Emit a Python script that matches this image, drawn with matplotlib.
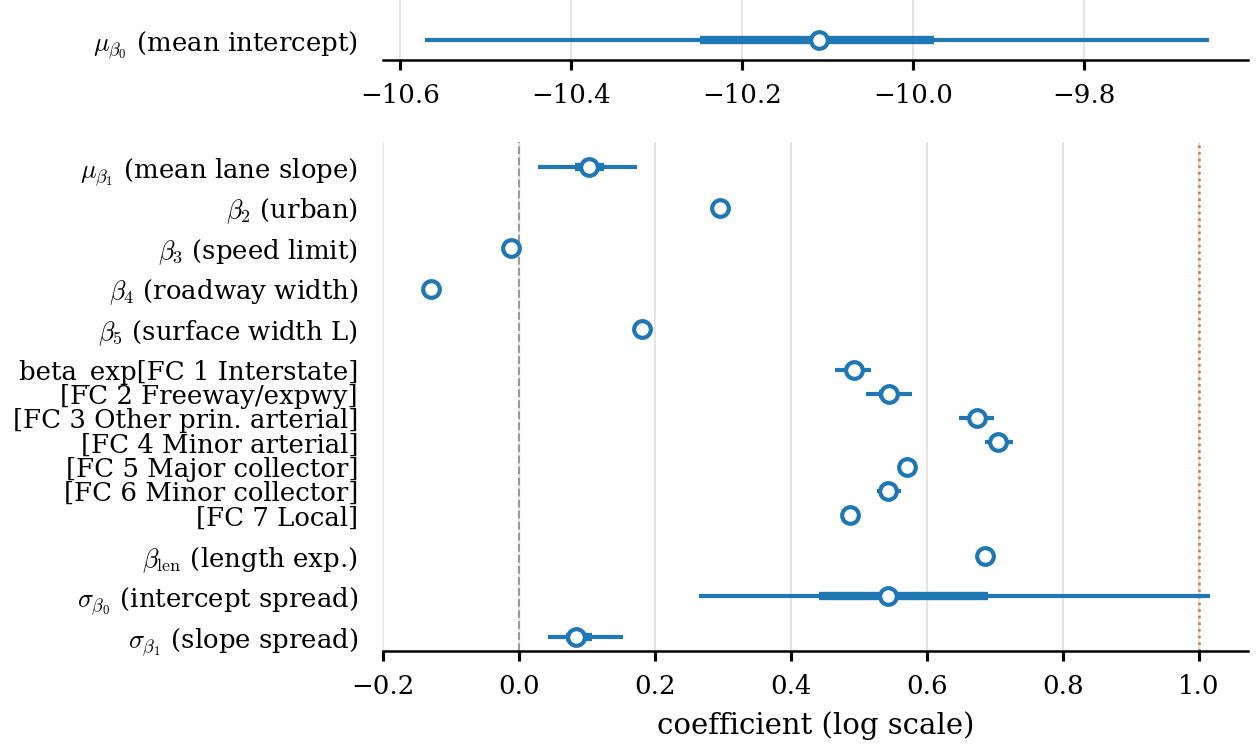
import matplotlib
matplotlib.use("Agg")
import matplotlib.pyplot as plt

plt.rcParams["font.family"] = "DejaVu Serif"
plt.rcParams["mathtext.fontset"] = "cm"

BLUE = "#1f77b4"

# intercept (own panel)
int_label = r"$\mu_{\beta_0}$ (mean intercept)"
int_median = -10.110
int_hdi50 = (-10.249, -9.975)
int_hdi94 = (-10.571, -9.653)

# remaining coefficients, top to bottom
labels = [
    r"$\mu_{\beta_1}$ (mean lane slope)",
    r"$\beta_2$ (urban)",
    r"$\beta_3$ (speed limit)",
    r"$\beta_4$ (roadway width)",
    r"$\beta_5$ (surface width L)",
    "beta_exp[FC 1 Interstate]",
    "[FC 2 Freeway/expwy]",
    "[FC 3 Other prin. arterial]",
    "[FC 4 Minor arterial]",
    "[FC 5 Major collector]",
    "[FC 6 Minor collector]",
    "[FC 7 Local]",
    r"$\beta_{\mathrm{len}}$ (length exp.)",
    r"$\sigma_{\beta_0}$ (intercept spread)",
    r"$\sigma_{\beta_1}$ (slope spread)",
]
medians = [0.103, 0.296, -0.012, -0.130, 0.181,
           0.492, 0.544, 0.673, 0.704, 0.570, 0.543, 0.487,
           0.685, 0.543, 0.084]
lo50 = [0.083, 0.292, -0.014, -0.132, 0.179,
        0.480, 0.530, 0.662, 0.695, 0.567, 0.535, 0.485,
        0.683, 0.441, 0.069]
hi50 = [0.125, 0.300, -0.010, -0.128, 0.183,
        0.503, 0.558, 0.684, 0.714, 0.573, 0.552, 0.489,
        0.687, 0.689, 0.107]
lo94 = [0.028, 0.285, -0.016, -0.134, 0.177,
        0.464, 0.510, 0.647, 0.685, 0.565, 0.527, 0.483,
        0.681, 0.264, 0.043]
hi94 = [0.173, 0.311, -0.008, -0.126, 0.185,
        0.517, 0.578, 0.699, 0.726, 0.576, 0.562, 0.491,
        0.689, 1.016, 0.153]
# the FC rows of beta_exp are packed closer together
is_fc = [False] * 5 + [True] * 7 + [False] * 3

# y positions from the bottom up
ys = []
y = 0.0
for k in range(len(labels) - 1, -1, -1):
    ys.append(y)
    step = 0.6 if (is_fc[k] and k > 0 and is_fc[k - 1]) else 1.0
    y += step
ys = ys[::-1]


def style_axis(ax):
    for side in ("left", "top", "right"):
        ax.spines[side].set_visible(False)
    ax.spines["bottom"].set_linewidth(1.2)
    ax.tick_params(axis="y", length=0, pad=12, labelsize=12.5)
    ax.tick_params(axis="x", length=5, width=1.5, pad=6, labelsize=12.5)
    ax.grid(axis="x", color="#e5e5e5", lw=1)
    ax.set_axisbelow(True)


def draw_row(ax, yy, med, a50, b50, a94, b94):
    ax.plot([a94, b94], [yy, yy], color=BLUE, lw=2, solid_capstyle="butt")
    ax.plot([a50, b50], [yy, yy], color=BLUE, lw=4, solid_capstyle="butt")
    ax.plot([med], [yy], "o", ms=8, mfc="white", mec=BLUE, mew=2)


fig = plt.figure(figsize=(1257 / 150, 746 / 150), dpi=150)
ax_top = fig.add_axes([383 / 1257, 1 - 60 / 746, 865 / 1257, 60 / 746])
ax = fig.add_axes([383 / 1257, 1 - 651 / 746, 865 / 1257, 509 / 746])

# top panel
style_axis(ax_top)
draw_row(ax_top, 0, int_median, *int_hdi50, *int_hdi94)
ax_top.set_yticks([0])
ax_top.set_yticklabels([int_label])
ax_top.set_ylim(-0.5, 1.0)
ax_top.set_xlim(-10.6204, -9.6076)
ax_top.set_xticks([-10.6, -10.4, -10.2, -10.0, -9.8])

# bottom panel
style_axis(ax)
for k in range(len(labels)):
    draw_row(ax, ys[k], medians[k], lo50[k], hi50[k], lo94[k], hi94[k])
ax.axvline(0, color="#999999", ls="--", lw=1, zorder=1)
ax.axvline(1, color="#cc7433", ls=":", lw=1.2, zorder=1)
ax.set_yticks(ys)
ax.set_yticklabels(labels)
ax.set_ylim(-0.35, 12.22)
ax.set_xlim(-0.2, 1.072)
ax.set_xticks([-0.2, 0.0, 0.2, 0.4, 0.6, 0.8, 1.0])
ax.set_xlabel("coefficient (log scale)", fontsize=14, labelpad=6)

fig.savefig("out.png", dpi=150)
